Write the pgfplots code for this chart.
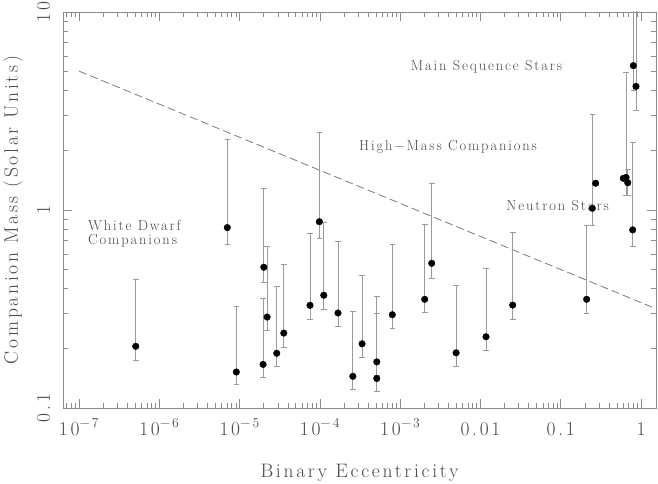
\documentclass[border=0pt]{standalone}
\usepackage{fontspec}
\setmainfont{Latin Modern Roman}[LetterSpace=14]
\newfontfamily\annfont{Latin Modern Roman}[LetterSpace=13]
\usepackage{pgfplots}
\pgfplotsset{compat=1.18}
\definecolor{txt}{HTML}{484848}
\definecolor{axc}{HTML}{8A8A8A}
\definecolor{barc}{HTML}{9A9A9A}
\definecolor{dashc}{HTML}{7A7A7A}
\newcommand\lbl{\fontsize{19.5}{22}\selectfont}
\newcommand\ann{\annfont\fontsize{14.5}{14}\selectfont}
\newcommand\ebar[3]{\addplot[barc, line width=0.7pt, mark=-, mark size=2.8pt, mark options={solid,line width=0.7pt}, forget plot] coordinates {(#1,#2) (#1,#3)};}
\begin{document}
\begin{tikzpicture}
\path[use as bounding box] (-63pt,-75pt) rectangle (595pt,408pt);
\begin{axis}[
  at={(0pt,0pt)}, anchor=south west,
  scale only axis, width=593pt, height=396pt,
  xmode=log, ymode=log,
  xmin=6.31e-8, xmax=1.535, ymin=0.1, ymax=10,
  xtick={1e-7,1e-6,1e-5,1e-4,1e-3,1e-2,1e-1,1},
  xticklabels={10\textsuperscript{−7},10\textsuperscript{−6},10\textsuperscript{−5},10\textsuperscript{−4},10\textsuperscript{−3},0.01,0.1,1},
  ytick={0.1,1,10}, yticklabels={0.1,1,10},
  minor xtick={7e-8,8e-8,9e-8,
    2e-7,3e-7,4e-7,5e-7,6e-7,7e-7,8e-7,9e-7,
    2e-6,3e-6,4e-6,5e-6,6e-6,7e-6,8e-6,9e-6,
    2e-5,3e-5,4e-5,5e-5,6e-5,7e-5,8e-5,9e-5,
    2e-4,3e-4,4e-4,5e-4,6e-4,7e-4,8e-4,9e-4,
    2e-3,3e-3,4e-3,5e-3,6e-3,7e-3,8e-3,9e-3,
    0.02,0.03,0.04,0.05,0.06,0.07,0.08,0.09,
    0.2,0.3,0.4,0.5,0.6,0.7,0.8,0.9},
  minor ytick={0.2,0.3,0.4,0.5,0.6,0.7,0.8,0.9,2,3,4,5,6,7,8,9},
  tick align=inside, major tick length=9pt, minor tick length=5pt,
  axis line style={axc, line width=0.8pt},
  every tick/.style={axc, line width=0.7pt},
  tick label style={txt, font=\lbl},
  xticklabel style={yshift=-27pt, anchor=base},
  yticklabel style={xshift=-13pt, rotate=90, anchor=base},
  every axis x label/.style={at={(axis description cs:0.5,0)}, yshift=-69pt, anchor=base, txt, font=\lbl},
  every axis y label/.style={at={(axis description cs:0,0.5)}, xshift=-45pt, rotate=90, anchor=base, txt, font=\lbl},
  xlabel={Binary Eccentricity},
  ylabel={Companion Mass (Solar Units)},
]
\addplot[dashc, line width=0.8pt, dash pattern=on 8pt off 4pt] coordinates {(1e-7,5.03) (1.54,0.317)};

\ebar{5.08e-7}{0.175}{0.449}
\ebar{7.03e-6}{0.672}{2.28}
\ebar{9.1e-6}{0.131}{0.327}
\ebar{1.96e-5}{0.1435}{0.358}
\ebar{2.00e-5}{0.431}{1.28}
\ebar{2.20e-5}{0.246}{0.658}
\ebar{2.90e-5}{0.162}{0.412}
\ebar{3.55e-5}{0.203}{0.532}
\ebar{7.53e-5}{0.281}{0.762}
\ebar{9.84e-5}{0.719}{2.47}
\ebar{1.117e-4}{0.315}{0.871}
\ebar{1.68e-4}{0.258}{0.692}
\ebar{2.57e-4}{0.124}{0.308}
\ebar{3.35e-4}{0.181}{0.468}
\ebar{5.11e-4}{0.147}{0.367}
\ebar{5.11e-4}{0.121}{0.301}
\ebar{7.98e-4}{0.252}{0.673}
\ebar{2.02e-3}{0.304}{0.848}
\ebar{2.47e-3}{0.450}{1.36}
\ebar{4.97e-3}{0.163}{0.417}
\ebar{0.01172}{0.195}{0.508}
\ebar{0.0252}{0.281}{0.771}
\ebar{0.210}{0.302}{0.834}
\ebar{0.247}{0.834}{3.04}
\ebar{0.650}{1.18}{4.98}
\ebar{0.682}{1.18}{1.61}
\ebar{0.787}{0.658}{2.20}
\ebar{0.802}{4.04}{20}
\ebar{0.865}{3.20}{20}

\addplot[only marks, mark=*, mark size=3.3pt, black] table[row sep=\\] {
x y\\
5.08e-7 0.205\\
7.03e-6 0.815\\
9.1e-6 0.152\\
1.96e-5 0.166\\
2.00e-5 0.514\\
2.20e-5 0.288\\
2.90e-5 0.189\\
3.55e-5 0.239\\
7.53e-5 0.330\\
9.84e-5 0.873\\
1.117e-4 0.371\\
1.68e-4 0.302\\
2.57e-4 0.1446\\
3.35e-4 0.211\\
5.11e-4 0.171\\
5.11e-4 0.141\\
7.98e-4 0.296\\
2.02e-3 0.354\\
2.47e-3 0.538\\
4.97e-3 0.190\\
0.01172 0.229\\
0.0252 0.331\\
0.210 0.354\\
0.247 1.02\\
0.272 1.365\\
0.601 1.445\\
0.650 1.46\\
0.682 1.374\\
0.787 0.794\\
0.802 5.36\\
0.865 4.21\\
};

\node[txt, font=\ann] at (axis cs:0.0119,5.27) {Main Sequence Stars};
\node[txt, font=\ann] at (axis cs:3.94e-3,2.08) {High−Mass Companions};
\node[txt, font=\ann] at (axis cs:0.0912,1.048) {Neutron Stars};
\node[txt, font=\ann, anchor=west, align=left, inner sep=0pt] at (axis cs:1.29e-7,0.76) {White Dwarf\\Companions};
\end{axis}
\end{tikzpicture}
\end{document}
